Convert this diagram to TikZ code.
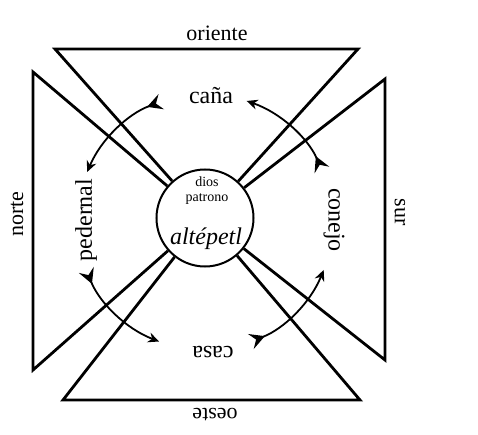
\documentclass[tikz,border=0pt]{standalone}
\usepackage{fontspec}
\setmainfont{Liberation Serif}
\usepackage{tikz}
\usetikzlibrary{arrows.meta}
\tikzset{
  >=Stealth,
  edge/.style={draw=black,line width=1.4pt,line join=miter},
  hub/.style={circle,draw=black,line width=1pt,fill=white,minimum size=48.5pt,
              inner sep=0pt},
  cyc/.style={{Stealth[reversed,length=7.5pt,width=8pt,inset=2.8pt]}-{Stealth[length=5.5pt,width=5pt]},
              line width=0.9pt},
  dir/.style={font=\fontsize{11}{13}\selectfont,inner sep=1pt},
  sign/.style={font=\fontsize{12}{14}\selectfont,inner sep=1pt},
}

\begin{document}
\begin{tikzpicture}[x=0.5pt,y=0.5pt]
  \useasboundingbox (0,0) rectangle (478,435);
  % ---- centre ----
  \node[hub] (hub) at (205,217) {};
  \node[font=\fontsize{7}{7.5}\selectfont,align=center,inner sep=0pt] (dios) at (207,244) {dios\\patrono};
  \node[font=\fontsize{12}{14}\selectfont\itshape,inner sep=0pt] (alt) at (206,196) {altépetl};

  % ---- triangles ----
  \coordinate (or1) at (55,386);  \coordinate (or2) at (358,386);
  \coordinate (oe1) at (63,35);   \coordinate (oe2) at (360,35);
  \coordinate (no1) at (33,363);  \coordinate (no2) at (33,65);
  \coordinate (su1) at (385,356); \coordinate (su2) at (385,75);
  \draw[edge] (hub) -- (or1) -- (or2) -- (hub);
  \draw[edge] (hub) -- (oe1) -- (oe2) -- (hub);
  \draw[edge] (hub) -- (no1) -- (no2) -- (hub);
  \draw[edge] (hub) -- (su1) -- (su2) -- (hub);

  % ---- directions ----
  \node[dir] (oriente) at (217,402) {oriente};
  \node[dir,rotate=180] (oeste) at (215,20) {oeste};
  \node[dir,rotate=90] (norte) at (17,221) {norte};
  \node[dir,rotate=-90] (sur) at (400,223) {sur};

  % ---- year bearers ----
  \node[sign] (cana) at (211,339) {caña};
  \node[sign,rotate=180] (casa) at (213,83) {casa};
  \node[sign,rotate=90] (pedernal) at (86,215) {pedernal};
  \node[sign,rotate=-90] (conejo) at (334,215) {conejo};

  % ---- cycle ----
  \coordinate (ring) at ([yshift=-2pt]hub.center);
  \foreach \a in {110,202,291,24} {
    \draw[cyc] ([shift={(\a:128)}]ring) arc[start angle=\a,end angle=\a+47,radius=128];
  }
\end{tikzpicture}
\end{document}
